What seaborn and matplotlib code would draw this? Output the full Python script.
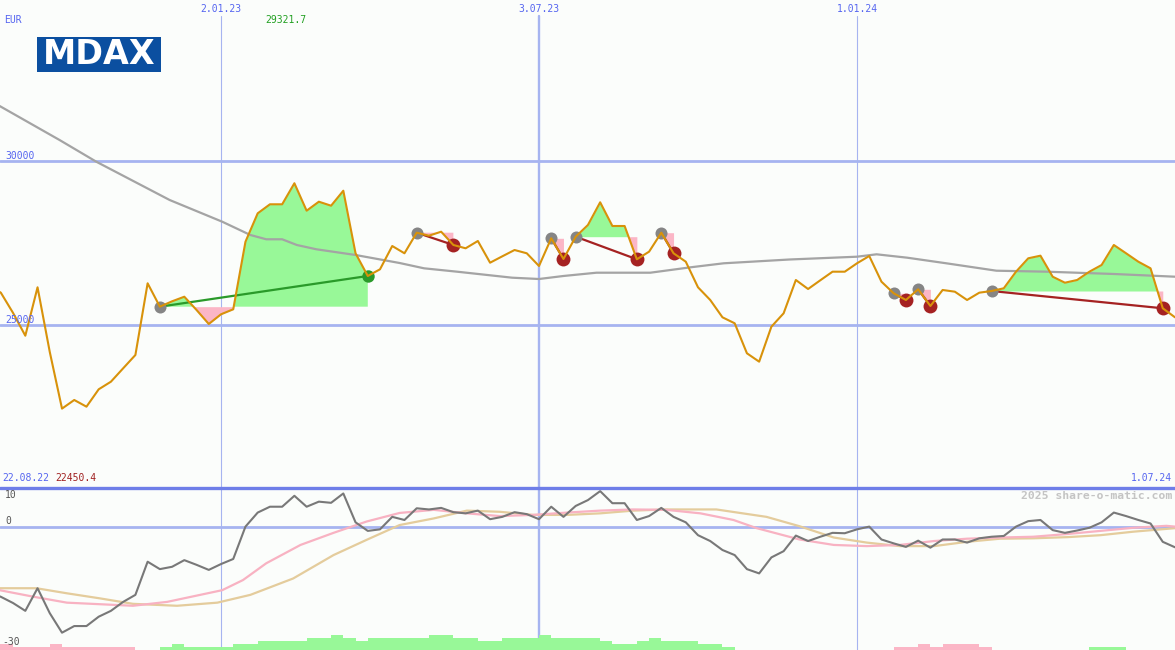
import numpy as np
import pandas as pd
import seaborn as sns
import matplotlib.pyplot as plt
from matplotlib.patches import Rectangle

# weekly closes, 22.08.22 .. 1.07.24 (week index 0..97)
price = [26220, 25984, 25366, 24673, 26149, 24176, 22450, 22713, 22509, 23039,
         23271, 23679, 24085, 26271, 25558, 25722, 25862, 25457, 25030, 25326,
         25478, 27539, 28405, 28680, 28680, 29322, 28485, 28759, 28637, 29094,
         27186, 26494, 26698, 27408, 27186, 27814, 27722, 27844, 27439, 27338,
         27561, 26899, 27094, 27286, 27186, 26799, 27643, 27012, 27692, 28049,
         28741, 28018, 28018, 27003, 27235, 27814, 27186, 26930, 26149, 25762,
         25234, 25051, 24137, 23881, 24948, 25356, 26372, 26097, 26363, 26625,
         26625, 26881, 27103, 26320, 25966, 25762, 26088, 25579, 26067, 26015,
         25762, 25985, 26036, 26119, 26625, 27033, 27113, 26472, 26289, 26372,
         26625, 26829, 27439, 27186, 26930, 26728, 25509, 25234]

# long moving average (read at these week positions)
ma_wk = [0.9, 5.8, 8.8, 14.8, 19.1, 21.4, 22.7, 24.0, 25.2, 26.8, 30.0, 33.6, 35.6, 38.3, 42.8,
         45.0, 47.0, 49.7, 54.1, 57.4, 60.1, 65.5, 71.0, 72.6, 75.1, 78.3, 82.4, 86.5, 92.0, 97.0]
ma_val = [31677, 30640, 29979, 28811, 28149, 27744, 27613, 27613, 27439, 27308, 27134, 26890, 26728,
          26625, 26442, 26402, 26494, 26594, 26594, 26759, 26881, 26997, 27082, 27155, 27052, 26881,
          26655, 26625, 26555, 26472]

# oscillator
osc = [-16.7, -17.9, -19.5, -21.5, -15.7, -22.1, -27.1, -25.4, -25.4, -23.0,
       -21.5, -19.2, -17.4, -8.9, -10.8, -10.2, -8.5, -9.7, -11.0, -9.5,
       -8.2, 0.1, 3.7, 5.2, 5.2, 8.0, 5.2, 6.5, 6.2, 8.6,
       1.2, -1.0, -0.6, 2.6, 1.8, 4.8, 4.5, 4.9, 3.8, 3.5,
       4.2, 2.0, 2.6, 3.8, 3.3, 2.0, 5.2, 2.6, 5.4, 6.9,
       9.2, 6.1, 6.1, 1.8, 2.8, 4.9, 2.6, 1.2, -2.1, -3.6,
       -5.9, -7.2, -10.8, -11.9, -7.8, -6.2, -2.2, -3.6, -2.5, -1.5,
       -1.6, -0.6, 0.1, -3.2, -4.2, -5.1, -3.5, -5.3, -3.2, -3.2,
       -4.0, -2.9, -2.5, -2.3, 0.1, 1.5, 1.8, -0.8, -1.5, -0.9,
       -0.2, 1.2, 3.7, 2.8, 1.8, 0.9, -3.8, -5.2]

sig1_wk = [0.9, 3.7, 6.4, 9.1, 11.8, 14.6, 17.3, 19.1, 20.8, 22.7, 25.5, 28.2, 30.9, 33.6, 36.4,
           39.1, 41.8, 44.5, 47.3, 50.0, 52.7, 55.4, 58.2, 60.9, 62.8, 66.3, 69.1, 71.8, 74.5,
           77.3, 80.0, 82.7, 85.4, 88.2, 90.9, 93.6, 96.3, 97.0]
sig1_val = [-16.2, -17.9, -19.4, -19.8, -20.2, -19.2, -17.4, -16.2, -13.6, -9.3, -4.6, -1.5, 1.4,
            3.6, 4.4, 3.5, 2.8, 3.1, 3.7, 4.2, 4.5, 4.4, 3.5, 1.8, -0.3, -3.2, -4.6, -4.9, -4.6,
            -3.6, -3.0, -2.7, -2.5, -1.8, -1.0, -0.2, 0.3, 0.1]

sig2_wk = [0.9, 3.9, 6.4, 9.1, 11.8, 15.4, 18.7, 21.4, 24.9, 28.2, 30.9, 33.6, 36.4, 39.1, 41.8,
           44.5, 47.3, 50.0, 52.7, 55.4, 59.5, 63.6, 66.3, 69.1, 71.8, 74.5, 77.3, 80.0, 82.7,
           85.4, 88.2, 90.9, 93.6, 97.0]
sig2_val = [-15.7, -15.7, -17.0, -18.3, -19.7, -20.2, -19.4, -17.4, -13.2, -7.2, -3.3, 0.5, 2.2,
            4.2, 3.9, 3.1, 3.1, 3.5, 4.2, 4.5, 4.5, 2.6, 0.2, -2.7, -4.0, -4.9, -4.9, -3.8, -3.0,
            -2.9, -2.6, -2.1, -1.2, -0.3]

# histogram blocks at the bottom (signed levels)
hist = [-2, -2, -1, -1, -1, -2, -1, -1, -1, -1,
        -1, -1, 0, 0, 1, 2, 1, 1, 1, 1,
        2, 2, 3, 3, 3, 3, 4, 4, 5, 4,
        3, 4, 4, 4, 4, 4, 5, 5, 4, 4,
        3, 3, 4, 4, 4, 5, 4, 4, 4, 4,
        3, 2, 2, 3, 4, 3, 3, 3, 2, 2,
        1, 0, 0, 0, 0, 0, 0, 0, 0, 0,
        0, 0, 0, 0, -1, -1, -2, -1, -2, -2,
        -2, -1, 0, 0, 0, 0, 0, 0, 0, 0,
        1, 1, 1, 0, 0, 0, 0, 0]

# signals: (entry week, exit week, won)
trades = [(14, 31, True), (35, 38, False), (46, 47, False), (48, 53, False),
          (55, 56, False), (74, 75, False), (76, 77, False), (82, 96, False)]

grid_weeks = [19, 45, 71]
grid_labels = ['2.01.23', '3.07.23', '1.01.24']

bg = '#fbfdfb'
blue_txt = '#5565f0'
grid_c = '#a6b4f0'
green_f = '#98f898'
pink_f = '#fbb6c6'

sns.set_style('white')
plt.rcParams['font.family'] = ['DejaVu Sans Mono']

weeks = np.arange(len(price))
df = pd.DataFrame({'week': weeks, 'price': price, 'osc': osc})
price = np.array(price, dtype=float)

W, H = 1175, 650
fig = plt.figure(figsize=(W / 100, H / 100), dpi=100)
fig.patch.set_facecolor(bg)
ax = fig.add_axes([0, 163 / H, 1, 487 / H])
ax2 = fig.add_axes([0, 0, 1, 162 / H])
for a in (ax, ax2):
    a.set_axis_off()
    a.set_xlim(0.93, 97.0)
ax.set_ylim(20060, 34909)
ax2.set_ylim(-31.54, 10.0)

# grid
for v in (30000, 25000):
    ax.axhline(v, color=grid_c, lw=2.0, zorder=0)
for wk in grid_weeks:
    lw = 1.7 if wk == 45 else 0.8
    ax.axvline(wk, ymax=0.968, color=grid_c, lw=lw, zorder=0)
    ax2.axvline(wk, color=grid_c, lw=lw, zorder=0)

# signal fills
for a_i, b_i, won in trades:
    wk = weeks[a_i:b_i + 1]
    p = price[a_i:b_i + 1]
    lvl = price[a_i]
    ax.fill_between(wk, p, lvl, where=p >= lvl, interpolate=True, color=green_f, lw=0, zorder=1)
    ax.fill_between(wk, p, lvl, where=p < lvl, interpolate=True, color=pink_f, lw=0, zorder=1)

sns.lineplot(x=ma_wk, y=ma_val, ax=ax, color='#a4a4a4', lw=1.6, zorder=2)

for a_i, b_i, won in trades:
    c = '#2a9a2a' if won else '#a52222'
    ax.plot([a_i, b_i], [price[a_i], price[b_i]], color=c, lw=1.6, zorder=3)
    ax.scatter([a_i], [price[a_i]], s=75, color='#858585', lw=0, zorder=4)
    ax.scatter([b_i], [price[b_i]], s=100 if not won else 80, color=c, lw=0, zorder=4)

sns.lineplot(data=df, x='week', y='price', ax=ax, color='#d8920a', lw=1.5, zorder=5)

# lower panel
ax2.axhline(0, color=grid_c, lw=2.0, zorder=0)
ax2.axhline(10, color='#6e7ee8', lw=2.4, zorder=6, clip_on=False)
hv = np.array(hist, dtype=float) * 0.78
ax2.bar(weeks, np.abs(hv), bottom=-31.54, width=1.0, align='edge',
        color=[green_f if h > 0 else pink_f for h in hv], lw=0, zorder=1)
sns.lineplot(x=sig2_wk, y=sig2_val, ax=ax2, color='#e4cc9c', lw=1.6, zorder=2)
sns.lineplot(x=sig1_wk, y=sig1_val, ax=ax2, color='#f8b2c2', lw=1.6, zorder=3)
sns.lineplot(data=df, x='week', y='osc', ax=ax2, color='#787878', lw=1.5, zorder=4)


def px(x, y):
    return x / W, 1 - y / H


fs = 7
for wk, lab in zip(grid_weeks, grid_labels):
    x = 221 + (wk - 19) * 12.23
    fig.text(*px(x, 9), lab, color=blue_txt, fontsize=fs, ha='center', va='center')
fig.text(*px(4, 20), 'EUR', color=blue_txt, fontsize=fs, va='center')
fig.text(*px(265, 20), '29321.7', color='#22a022', fontsize=fs, va='center')
fig.text(*px(5, 156), '30000', color=blue_txt, fontsize=fs, va='center')
fig.text(*px(5, 320), '25000', color=blue_txt, fontsize=fs, va='center')
fig.text(*px(2, 478), '22.08.22', color=blue_txt, fontsize=fs, va='center')
fig.text(*px(55, 478), '22450.4', color='#a02020', fontsize=fs, va='center')
fig.text(*px(1172, 478), '1.07.24', color=blue_txt, fontsize=fs, ha='right', va='center')
fig.text(*px(1172, 496), '2025 share-o-matic.com', color='#c4c4c4', fontsize=8.2,
         fontweight='bold', ha='right', va='center')
fig.text(*px(5, 495), '10', color='#555555', fontsize=fs, va='center')
fig.text(*px(5, 521), '0', color='#555555', fontsize=fs, va='center')
fig.text(*px(2, 642), '-30', color='#555555', fontsize=fs, va='center')

# logo
fig.patches.append(Rectangle(px(37, 72), 124 / W, 35 / H, transform=fig.transFigure,
                             facecolor='#0b4fa0', edgecolor='none', zorder=5))
fig.text(*px(99, 55), 'MDAX', color='white', fontsize=24, fontweight='bold',
         family='DejaVu Sans', ha='center', va='center', zorder=6)

fig.savefig('out.png', dpi=100, facecolor=bg)
